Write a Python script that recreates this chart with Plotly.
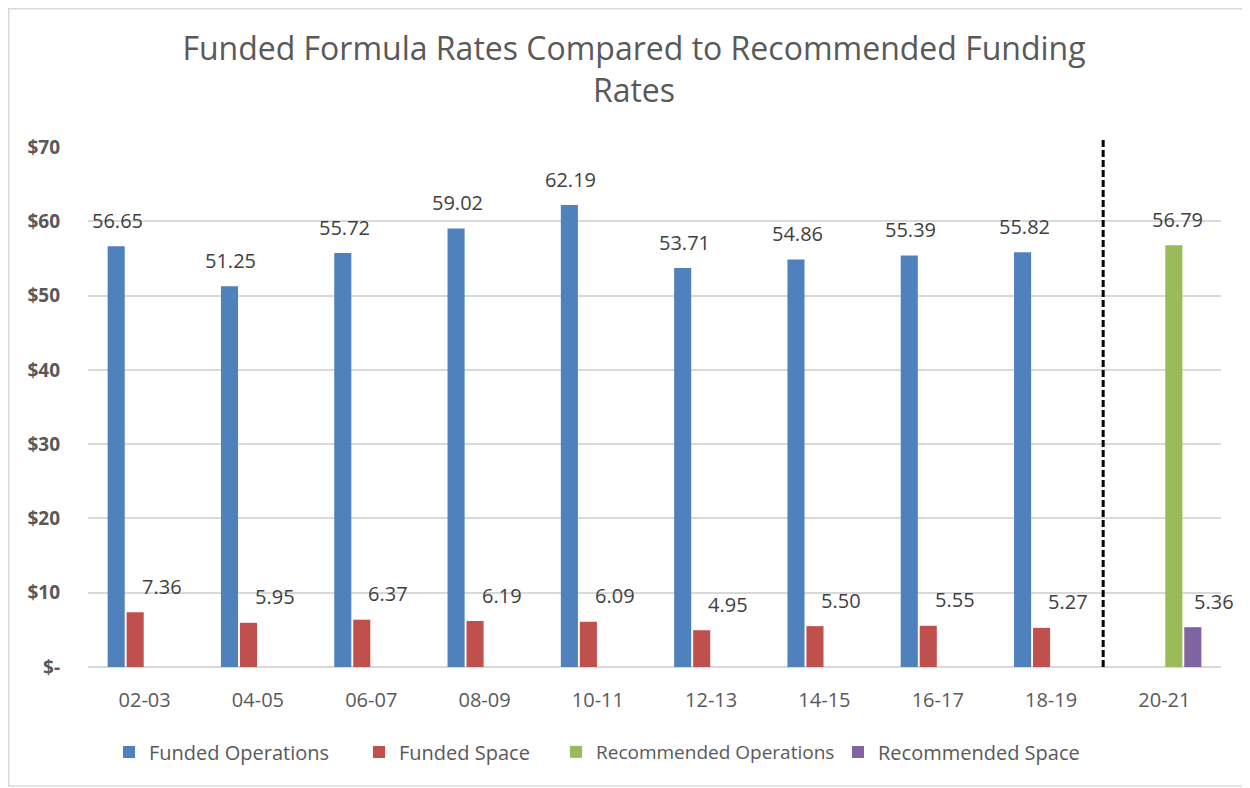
import plotly.graph_objects as go

categories = ["02-03", "04-05", "06-07", "08-09", "10-11", "12-13", "14-15", "16-17", "18-19", "20-21"]
funded_operations = [56.65, 51.25, 55.72, 59.02, 62.19, 53.71, 54.86, 55.39, 55.82, None]
funded_space = [7.36, 5.95, 6.37, 6.19, 6.09, 4.95, 5.50, 5.55, 5.27, None]
recommended_operations = [None] * 9 + [56.79]
recommended_space = [None] * 9 + [5.36]

y_tickvals = [0, 10, 20, 30, 40, 50, 60, 70]
y_ticktext = ["$-", "$10", "$20", "$30", "$40", "$50", "$60", "$70"]

# name, values, colour, label x-shift, legend id, legend item start (figure px), legend font size
series = [
    ("Funded Operations", funded_operations, "#4F81BD", -27, "legend2", 101, 20),
    ("Funded Space", funded_space, "#C0504D", 17, "legend3", 351, 20),
    ("Recommended Operations", recommended_operations, "#9BBB59", 13, "legend4", 548, 19),
    ("Recommended Space", recommended_space, "#8064A2", 50, "legend5", 830, 20),
]

FONT = "Open Sans"
OFF = 8  # page body margin
W, H = 1250 - OFF, 788 - OFF
L, T = 88 - OFF, 147 - OFF
R = W - (1221 - OFF)
B = H - (667 - OFF)
pw, ph = W - L - R, H - T - B

fig = go.Figure()
annotations = []
legends = {}
for name, vals, color, xs, lg, lx, fs in series:
    fig.add_trace(go.Bar(name=name, x=categories, y=vals, legend=lg,
                         marker=dict(color=color, line=dict(width=0))))
    legends[lg] = dict(orientation="h", x=(lx - L) / pw, xanchor="left",
                       y=(H - B - (752 - OFF)) / ph, yanchor="middle",
                       font=dict(family=FONT, size=fs, color="#595959"),
                       bgcolor="rgba(0,0,0,0)")
    for c, v in zip(categories, vals):
        if v is None:
            continue
        annotations.append(dict(x=c, y=v, xref="x", yref="y", text=f"{v:.2f}", showarrow=False,
                                xshift=xs, yshift=26, yanchor="middle",
                                font=dict(family=FONT, size=20, color="#404040")))

shapes = [
    dict(type="line", xref="x", yref="paper", x0=8.46, x1=8.46, y0=0, y1=71.2 / 70,
         line=dict(color="black", width=3, dash="7px,3px")),
    dict(type="rect", xref="paper", yref="paper",
         x0=(0.75 - L) / pw, x1=(1248 - OFF - L) / pw, y0=(H - B - (786 - OFF)) / ph, y1=(H - B - 0.75) / ph,
         line=dict(color="#D9D9D9", width=1.5), layer="below"),
]

fig.update_layout(
    width=W, height=H,
    margin=dict(l=L, r=R, t=T, b=B),
    paper_bgcolor="white", plot_bgcolor="white",
    barmode="group", bargap=0.33, bargroupgap=0.1,
    showlegend=True,
    title=dict(text="Funded Formula Rates Compared to Recommended Funding<br>Rates",
               x=(634 - OFF) / W, xanchor="center", y=1 - 52 / H, yanchor="top", yref="container",
               font=dict(family=FONT, size=32, color="#595959")),
    font=dict(family=FONT, color="#595959"),
    xaxis=dict(type="category", range=[-0.5, 9.5], autorange=False,
               showgrid=False, showline=False, ticks="", ticklabelstandoff=19,
               tickfont=dict(family=FONT, size=20, color="#595959")),
    yaxis=dict(range=[0, 70], tickvals=y_tickvals, ticktext=y_ticktext,
               showgrid=True, gridcolor="#D9D9D9", gridwidth=1.5,
               zeroline=True, zerolinecolor="#D9D9D9", zerolinewidth=1.5,
               showline=False, ticks="", ticklabelstandoff=27,
               tickfont=dict(family=FONT, size=19, color="#595959", weight="bold")),
    annotations=annotations,
    shapes=shapes,
    **legends,
)

fig.write_html("out.html")
